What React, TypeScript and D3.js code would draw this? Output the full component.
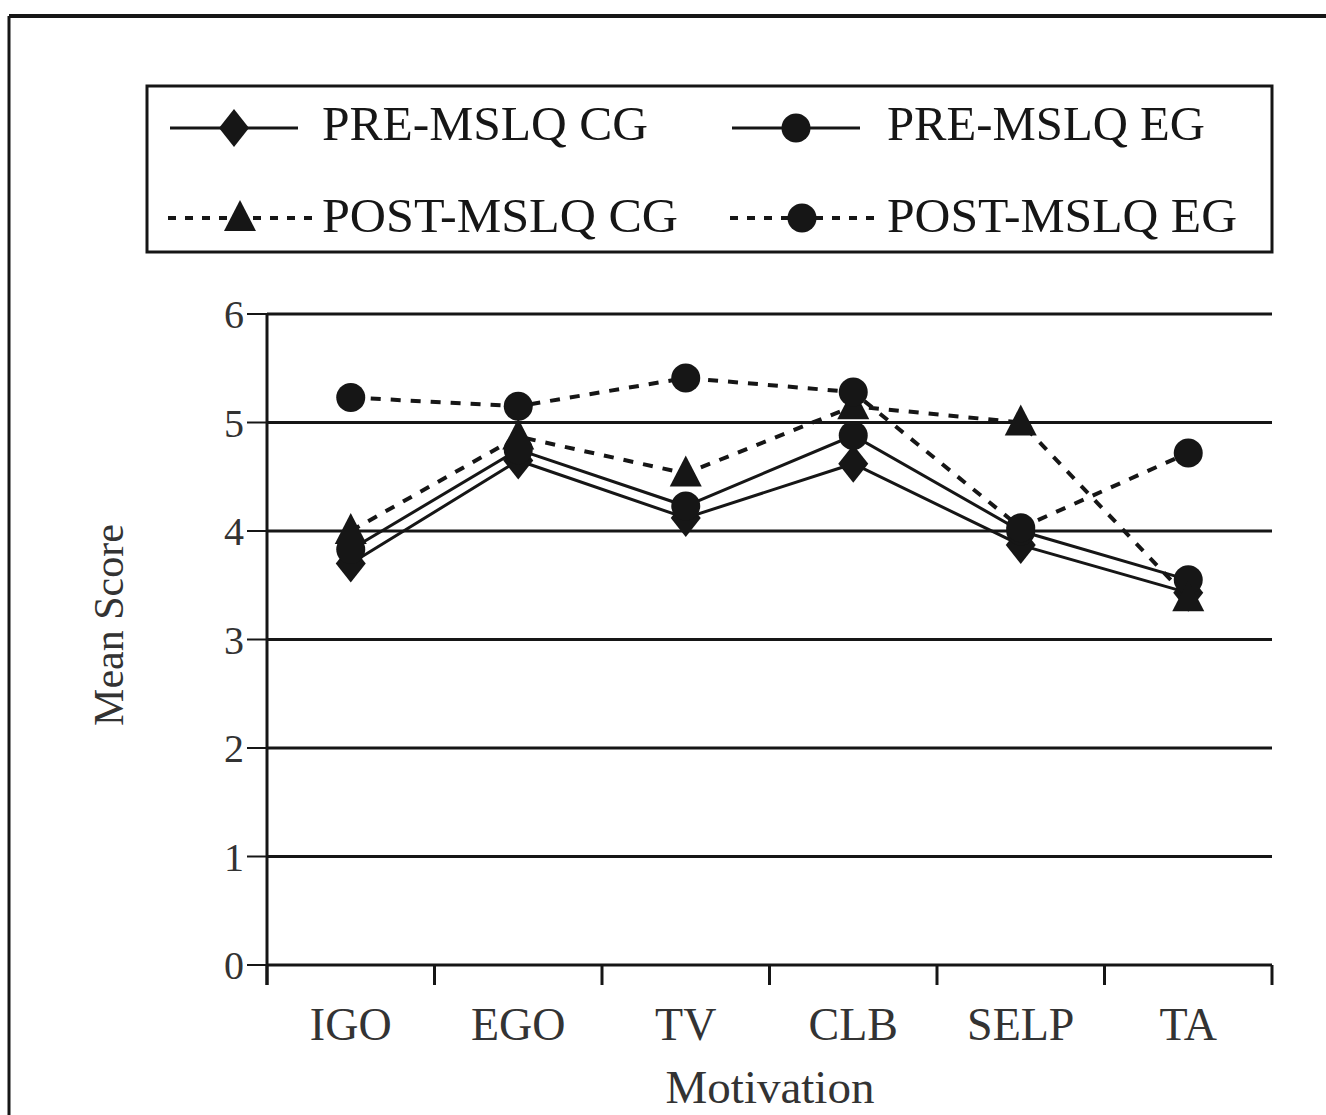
import React from "react";
import * as d3 from "d3";

const categories = ["IGO", "EGO", "TV", "CLB", "SELP", "TA"];
const preCG = [3.7, 4.65, 4.12, 4.62, 3.87, 3.43];
const preEG = [3.83, 4.75, 4.23, 4.88, 4.0, 3.55];
const postCG = [4.0, 4.87, 4.53, 5.15, 5.0, 3.38];
const postEG = [5.23, 5.15, 5.41, 5.28, 4.03, 4.72];
const yTicks = [0, 1, 2, 3, 4, 5, 6];
const seriesNames = ["PRE-MSLQ CG", "PRE-MSLQ EG", "POST-MSLQ CG", "POST-MSLQ EG"];

const INK = "#161616";
const FONT = "'Liberation Serif', 'Times New Roman', serif";

type Shape = "diamond" | "circle" | "triangle";

function Marker({ shape, x, y }: { shape: Shape; x: number; y: number }) {
  if (shape === "circle") return <circle cx={x} cy={y} r={14.5} fill={INK} />;
  if (shape === "diamond")
    return <path d={`M${x},${y - 19} L${x + 15},${y} L${x},${y + 19} L${x - 15},${y} Z`} fill={INK} />;
  return <path d={`M${x},${y - 18} L${x + 16},${y + 13} L${x - 16},${y + 13} Z`} fill={INK} />;
}

export default function App() {
  const W = 1326;
  const H = 1115;
  const x0 = 267;
  const x1 = 1272;
  const x = d3.scaleBand<string>().domain(categories).range([x0, x1]).padding(0);
  const y = d3.scaleLinear().domain([0, 6]).range([965, 314]);
  const cx = (c: string) => (x(c) as number) + x.bandwidth() / 2;

  const series: { name: string; values: number[]; shape: Shape; dashed: boolean }[] = [
    { name: seriesNames[0], values: preCG, shape: "diamond", dashed: false },
    { name: seriesNames[1], values: preEG, shape: "circle", dashed: false },
    { name: seriesNames[2], values: postCG, shape: "triangle", dashed: true },
    { name: seriesNames[3], values: postEG, shape: "circle", dashed: true },
  ];

  const line = d3
    .line<number>()
    .x((_, i) => cx(categories[i]))
    .y((d) => y(d));

  const tickEdges = [...categories.map((c) => x(c) as number), x1];

  const legendItems = [
    { s: series[0], lx: 170, tx: 322, ty: 140, ly: 128, len: 326 },
    { s: series[1], lx: 732, tx: 887, ty: 140, ly: 128, len: 318 },
    { s: series[2], lx: 168, tx: 322, ty: 232, ly: 218, len: 356 },
    { s: series[3], lx: 730, tx: 887, ty: 232, ly: 218, len: 350 },
  ];

  return (
    <div style={{ position: "absolute", left: 0, top: 0 }}>
      <svg width={W} height={H} style={{ display: "block", background: "#fff" }} fontFamily={FONT}>
        <rect x={0} y={0} width={W} height={H} fill="#fff" />
        {/* outer frame */}
        <line x1={9} y1={16} x2={W} y2={16} stroke={INK} strokeWidth={4} />
        <line x1={9} y1={16} x2={9} y2={H} stroke={INK} strokeWidth={3} />

        {/* legend */}
        <rect x={147} y={86} width={1125} height={166} fill="none" stroke={INK} strokeWidth={3} />
        {legendItems.map((it, i) => {
          const lineEnd = it.s.dashed ? it.lx + 150 : it.lx + 128;
          const mx = it.s.dashed ? it.lx + 72 : it.lx + 64;
          return (
            <g key={i}>
              <line
                x1={it.lx}
                x2={lineEnd}
                y1={it.ly}
                y2={it.ly}
                stroke={INK}
                strokeWidth={it.s.dashed ? 4 : 3}
                strokeDasharray={it.s.dashed ? "8 9" : undefined}
              />
              <Marker shape={it.s.shape} x={mx} y={it.ly} />
              <text
                x={it.tx}
                y={it.ty}
                fontSize={48}
                fill={INK}
                textLength={it.len}
                lengthAdjust="spacingAndGlyphs"
              >
                {it.s.name}
              </text>
            </g>
          );
        })}

        {/* gridlines */}
        {yTicks.filter((t) => t > 0).map((t) => (
          <line key={t} x1={x0} x2={x1} y1={y(t)} y2={y(t)} stroke={INK} strokeWidth={3} />
        ))}
        {/* y axis */}
        <line x1={x0} x2={x0} y1={y(6)} y2={y(0) + 20} stroke={INK} strokeWidth={3} />
        {yTicks.map((t) => (
          <g key={t}>
            <line x1={x0 - 20} x2={x0} y1={y(t)} y2={y(t)} stroke={INK} strokeWidth={2} />
            <text x={x0 - 23} y={y(t)} dy="0.35em" textAnchor="end" fontSize={40} fill="#333">
              {t}
            </text>
          </g>
        ))}
        {/* x axis */}
        <line x1={x0} x2={x1} y1={y(0)} y2={y(0)} stroke={INK} strokeWidth={3} />
        {tickEdges.map((e, i) => (
          <line key={i} x1={e} x2={e} y1={y(0)} y2={y(0) + 20} stroke={INK} strokeWidth={3} />
        ))}
        {categories.map((c) => (
          <text key={c} x={cx(c)} y={1040} textAnchor="middle" fontSize={46} fill="#333">
            {c}
          </text>
        ))}
        <text x={770} y={1103} textAnchor="middle" fontSize={47} fill="#333">
          Motivation
        </text>
        <text transform="translate(123,625) rotate(-90)" textAnchor="middle" fontSize={42} fill="#333">
          Mean Score
        </text>

        {/* series lines */}
        {series.map((s) => (
          <path
            key={s.name}
            d={line(s.values) as string}
            fill="none"
            stroke={INK}
            strokeWidth={s.dashed ? 4 : 3}
            strokeDasharray={s.dashed ? "10 10" : undefined}
          />
        ))}
        {series.map((s) =>
          s.values.map((v, i) => <Marker key={s.name + i} shape={s.shape} x={cx(categories[i])} y={y(v)} />)
        )}
      </svg>
    </div>
  );
}
